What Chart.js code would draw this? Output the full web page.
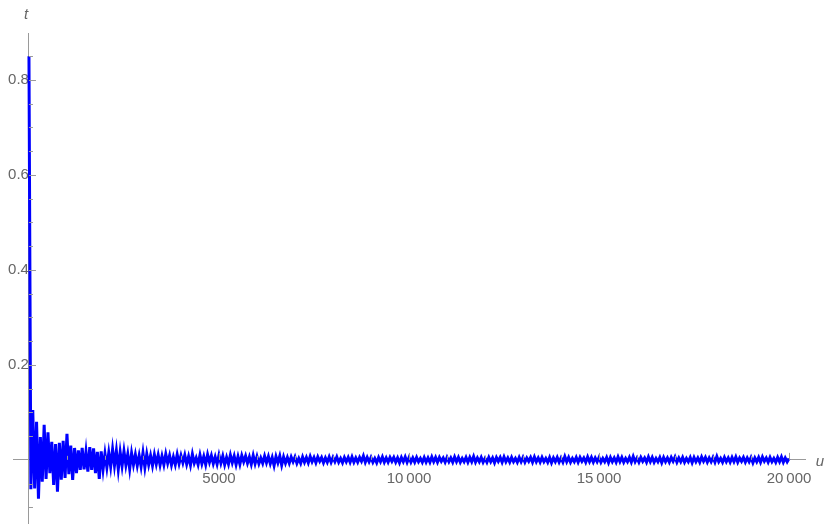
<!DOCTYPE html>
<html><head><meta charset="utf-8">
<script src="https://cdn.jsdelivr.net/npm/chart.js@4/dist/chart.umd.min.js"></script>
<style>html,body{margin:0;padding:0;background:#fff}canvas{display:block}</style>
</head><body>
<canvas id="c" width="830" height="526"></canvas>
<script>
// sampling step along u
const uStep = 50;
// t values at u = 0, 50, 100, ... 20000
const tValues = [
0.85,-0.062,0.105,-0.06,0.08,-0.082,0.048,-0.046,0.074,-0.04,
0.058,-0.028,0.038,-0.053,0.033,-0.067,0.036,-0.042,0.04,-0.038,
0.055,-0.03,0.03,-0.042,0.025,-0.028,0.02,-0.021,0.025,-0.02,
0.017,-0.025,0.027,-0.021,0.024,-0.028,0.017,-0.04,0.018,-0.02,
0.013,-0.016,0.015,-0.014,0.022,-0.012,0.019,-0.02,0.016,-0.013,
0.018,-0.011,0.012,-0.019,0.014,-0.01,0.011,-0.012,0.009,-0.014,
0.015,-0.016,0.012,-0.01,0.009,-0.012,0.011,-0.009,0.01,-0.011,
0.008,-0.01,0.012,-0.007,0.009,-0.011,0.006,-0.01,0.011,-0.008,
0.009,-0.006,0.01,-0.009,0.007,-0.011,0.012,-0.007,0.004,-0.01,
0.01,-0.008,0.007,-0.01,0.011,-0.005,0.009,-0.008,0.006,-0.009,
0.01,-0.007,0.008,-0.01,0.005,-0.009,0.01,-0.006,0.008,-0.01,
0.007,-0.009,0.009,-0.004,0.008,-0.007,0.006,-0.009,0.009,-0.008,
0.007,-0.008,0.004,-0.007,0.008,-0.006,0.007,-0.008,0.005,-0.012,
0.007,-0.006,0.008,-0.011,0.006,-0.007,0.005,-0.007,0.006,-0.004,
0.006,-0.007,0.003,-0.007,0.006,-0.005,0.005,-0.006,0.007,-0.004,
0.005,-0.006,0.006,-0.003,0.005,-0.006,0.004,-0.005,0.006,-0.005,
0.005,-0.004,0.006,-0.005,0.003,-0.006,0.005,-0.004,0.005,-0.005,
0.006,-0.005,0.004,-0.005,0.005,-0.003,0.008,-0.005,0.005,-0.004,
0.005,-0.005,0.003,-0.006,0.005,-0.004,0.006,-0.005,0.004,-0.005,
0.005,-0.003,0.005,-0.005,0.004,-0.006,0.005,-0.004,0.006,-0.005,
0.005,-0.005,0.004,-0.005,0.005,-0.004,0.003,-0.005,0.005,-0.005,
0.004,-0.005,0.006,-0.004,0.005,-0.005,0.005,-0.003,0.004,-0.005,
0.005,-0.004,0.004,-0.005,0.006,-0.004,0.005,-0.005,0.003,-0.004,
0.005,-0.005,0.005,-0.004,0.007,-0.005,0.004,-0.004,0.005,-0.005,
0.003,-0.005,0.005,-0.004,0.004,-0.006,0.005,-0.003,0.005,-0.005,
0.006,-0.004,0.004,-0.005,0.005,-0.004,0.003,-0.005,0.005,-0.004,
0.005,-0.005,0.004,-0.003,0.005,-0.005,0.006,-0.004,0.004,-0.005,
0.005,-0.004,0.003,-0.005,0.005,-0.006,0.004,-0.004,0.005,-0.005,
0.004,-0.005,0.007,-0.004,0.005,-0.005,0.003,-0.004,0.005,-0.005,
0.005,-0.003,0.004,-0.005,0.006,-0.004,0.005,-0.005,0.004,-0.004,
0.005,-0.005,0.003,-0.004,0.005,-0.006,0.005,-0.004,0.004,-0.005,
0.006,-0.004,0.005,-0.005,0.003,-0.004,0.005,-0.005,0.007,-0.004,
0.004,-0.005,0.005,-0.003,0.004,-0.005,0.006,-0.004,0.005,-0.005,
0.003,-0.004,0.005,-0.006,0.005,-0.004,0.004,-0.005,0.005,-0.003,
0.006,-0.005,0.004,-0.004,0.005,-0.005,0.003,-0.004,0.005,-0.006,
0.005,-0.004,0.004,-0.005,0.006,-0.003,0.005,-0.005,0.004,-0.004,
0.005,-0.005,0.007,-0.004,0.003,-0.005,0.005,-0.004,0.004,-0.005,
0.005,-0.004,0.006,-0.005,0.004,-0.003,0.005,-0.005,0.004,-0.004,
0.005,-0.006,0.004,-0.004,0.005,-0.005,0.006,-0.003,0.004,-0.005,
0.005,-0.004,0.003,-0.005,0.005,-0.004,0.006,-0.005,0.004,-0.004,
0.003
];
// axis ranges
const uRange = [-420, 20420];
const tRange = [-0.133, 0.899];
// ticks
const uMajorTicks = [5000, 10000, 15000, 20000];
const uMajorLabels = ['5000', '10\u2009000', '15\u2009000', '20\u2009000'];
const uMinorTicks = [1000,2000,3000,4000,6000,7000,8000,9000,11000,12000,13000,14000,16000,17000,18000,19000];
const tMajorTicks = [0.2, 0.4, 0.6, 0.8];
const tMajorLabels = ['0.2', '0.4', '0.6', '0.8'];
const tMinorTicks = [-0.1,-0.05,0.05,0.1,0.15,0.25,0.3,0.35,0.45,0.5,0.55,0.65,0.7,0.75,0.85];
const axisNames = ['u', 't'];

const AXIS = '#9a9a9a';
const TEXT = '#666666';
const FONT = '"Liberation Sans", Arial, sans-serif';

const tickDecor = {
  id: 'tickDecor',
  afterDatasetsDraw(chart) {
    const {ctx, scales: {x, y}} = chart;
    const x0 = x.getPixelForValue(0), y0 = y.getPixelForValue(0);
    ctx.save();
    ctx.strokeStyle = AXIS; ctx.lineWidth = 1;
    ctx.beginPath();
    const xt = (v, len) => { const p = Math.round(x.getPixelForValue(v)) + 0.5; ctx.moveTo(p, y0); ctx.lineTo(p, y0 - len); };
    const yt = (v, len) => { const p = Math.round(y.getPixelForValue(v)) + 0.5; ctx.moveTo(x0, p); ctx.lineTo(x0 + len, p); };
    uMajorTicks.forEach(v => xt(v, 7));
    uMinorTicks.forEach(v => xt(v, 4));
    tMajorTicks.forEach(v => yt(v, 7));
    tMinorTicks.forEach(v => yt(v, 4));
    ctx.stroke();
    ctx.fillStyle = TEXT;
    ctx.font = 'italic 15px ' + FONT;
    ctx.textAlign = 'center'; ctx.textBaseline = 'middle';
    ctx.fillText(axisNames[1], x0 - 3, y.top - 18);
    ctx.fillText(axisNames[0], x.right + 15, y0 + 2);
    ctx.restore();
  }
};

const noPad = s => { s.paddingLeft = 0; s.paddingRight = 0; s.paddingTop = 0; s.paddingBottom = 0; };

new Chart(document.getElementById('c'), {
  type: 'scatter',
  data: {
    datasets: [{
      data: tValues.map((v, i) => ({x: i * uStep, y: v})),
      showLine: true,
      borderColor: '#0000ff',
      borderWidth: 3,
      pointRadius: 0,
      tension: 0,
      fill: false
    }]
  },
  options: {
    responsive: false,
    animation: false,
    devicePixelRatio: 1,
    layout: {autoPadding: false, padding: {left: 13, right: 25, top: 33, bottom: 3}},
    plugins: {legend: {display: false}, tooltip: {enabled: false}},
    scales: {
      x: {
        type: 'linear', min: uRange[0], max: uRange[1],
        position: {y: 0}, z: 1,
        grid: {display: false, drawTicks: false},
        border: {display: true, color: AXIS, width: 1},
        afterBuildTicks: s => { s.ticks = uMajorTicks.map(v => ({value: v})); },
        afterFit: s => { s.height = 0; noPad(s); },
        ticks: {
          color: TEXT, font: {family: FONT, size: 15}, padding: 10,
          autoSkip: false, maxRotation: 0,
          callback: v => { const i = uMajorTicks.indexOf(v); return i >= 0 ? uMajorLabels[i] : ''; }
        }
      },
      y: {
        type: 'linear', min: tRange[0], max: tRange[1],
        position: {x: 0}, z: 1,
        grid: {display: false, drawTicks: false},
        border: {display: true, color: AXIS, width: 1},
        afterBuildTicks: s => { s.ticks = tMajorTicks.map(v => ({value: v})); },
        afterFit: s => { s.width = 0; noPad(s); },
        ticks: {
          color: TEXT, font: {family: FONT, size: 15}, padding: 7,
          autoSkip: false,
          callback: v => { const i = tMajorTicks.indexOf(v); return i >= 0 ? tMajorLabels[i] : ''; }
        }
      }
    }
  },
  plugins: [tickDecor]
});
</script>
</body></html>
